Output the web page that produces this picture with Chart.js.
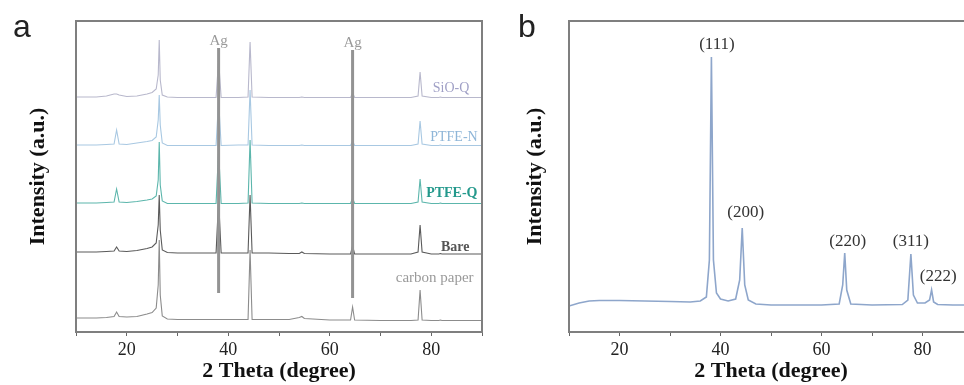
<!DOCTYPE html>
<html><head><meta charset="utf-8">
<script src="https://cdn.jsdelivr.net/npm/chart.js@4.4.1/dist/chart.umd.min.js"></script>
<style>
html,body{margin:0;padding:0;background:#fff;overflow:hidden;width:964px;height:385px;}
#wrap{position:relative;width:964px;height:385px;overflow:hidden;background:#fff;}
canvas{position:absolute;top:0;}
#ca{left:0;} #cb{left:490px;}
.pl{position:absolute;font-family:'Liberation Sans',Arial,sans-serif;font-size:32px;color:#222;line-height:1;}
</style></head><body>
<div id="wrap">
<canvas id="ca" width="490" height="385"></canvas>
<canvas id="cb" width="500" height="385"></canvas>
<div class="pl" style="left:13px;top:10px">a</div>
<div class="pl" style="left:518px;top:10px">b</div>
</div>
<script>
// ---------- Panel a data (stacked XRD patterns, offset intensities, a.u.) ----------
const twoTheta = [10,12,14,16,17.5,18,18.5,20,22,24,25,25.8,26.2,26.4,26.6,27,28,30,34,37.6,38.1,38.6,42,43.9,44.3,44.7,48,52,54,54.5,55,60,64.1,64.5,64.9,70,76,77.4,77.8,78.2,80,81.5,81.8,82.1,85,90];
const seriesNames = ['SiO-Q','PTFE-N','PTFE-Q','Bare','carbon paper'];
const intSiOQ = [235,235,235,236,238,238,237,235.5,236,238,
  239.5,243,257,292,252,237,235,234.5,234.5,234.5,
  272,234.5,234.5,235,290,235,234.5,234.5,234.5,235,
  234.5,234.5,234.5,239,234.5,234.5,234.5,236,260,236,
  234.5,234.5,235,234.5,234.5,234.5];
const intPTFEN = [187,187,187,187.5,188,202,188,187.5,189,190.5,
  191.5,195,212,237,207,189,186.5,186.5,186.5,186.5,
  232,186.5,187,187,242,187,186.5,186.5,186.5,187,
  186.5,186.5,186.5,191,186.5,186.5,186.5,188,211,188,
  186.5,186.5,187,186.5,186.5,186.5];
const intPTFEQ = [129,129,129,129.5,130,143,130,129.5,130.5,132,
  133,136,152,190,147,131,128.5,128.5,128.5,128.5,
  182,128.5,128.5,129,192,129,128.5,128.5,128.5,129,
  128.5,128.5,128.5,134,128.5,128.5,128.5,130,153,130,
  128.5,128.5,129,128.5,128.5,128.5];
const intBare = [80,80,80,80.5,81,85,81,80.5,81.5,83.5,
  85,89,107,137,102,82,79.5,79,79,79,
  132,79,79,79,137,79,79,78.5,78.5,80,
  78.5,78,78,86,78,78,78,80,107,80,
  78,78,78.5,78,78,78];
const intCarbon = [14,14,14,14.5,15.5,20,15.5,15,15.5,18,
  19.5,24,47,92,37,16,13,12.5,12.5,12.5,
  12.5,12.5,12.5,12.5,82,12.5,12.5,12.5,14.5,15.5,
  13.5,12,12,25,12,11.5,11.5,12,42,12,
  11.5,11.5,12,11.5,11.5,11.5];
const agRefAngles = [38.1, 64.5];
const agRefTop = [284, 282];
const agRefBottom = [39, 34];

// ---------- Panel b data (Ag pattern) ----------
const twoThetaAg = [10,12,14,16,20,25,30,34,36,37.2,37.8,38.2,38.6,39.2,40,41.5,43,43.8,44.3,44.8,45.5,47,50,55,60,63.5,64.2,64.6,65,65.8,70,76,77.1,77.7,78.2,79,80.5,81.4,81.8,82.2,83,86,90];
const intensityAg = [26,29,31,31.5,31.5,31,30.5,30,31,35,72,275,72,39,33,31,33,52,104,47,32,28,27,27,27,28,47,79,42,28,27,27.5,32,78,37,29,29,32,42,30,27.5,27,27];
const hklLabels = ['(111)','(200)','(220)','(311)','(222)'];
const hklAngles = [39.3,45.0,65.2,77.7,83.1];
const hklHeights = [287,119,90,90,55];

// ---------- styles ----------
const SERIF = "'Liberation Serif','Times New Roman',serif";
const traceColors = ['#b8b8cc','#a8c8e2','#5cb6ac','#5a5a5a','#8c8c8c'];
const labelColors = ['#a0a0c6','#8fb6d8','#24998c','#555555','#9a9a9a'];
const labelFonts = ['14px','14px','bold 14px','bold 14px','15px'];
const labelPos = [[80.3,244],[79.8,195],[79.0,139],[81.9,85],[73.0,54]];

const pts = (xs, ys) => xs.map((x,i)=>({x, y: ys[i]}));

const framePlugin = {
  id: 'frame',
  afterDatasetsDraw(chart, args, opts) {
    const {ctx, chartArea: a, scales: {x, y}} = chart;
    ctx.save();
    ctx.beginPath(); ctx.rect(a.left, a.top, a.right - a.left, a.bottom - a.top); ctx.clip();
    (opts.labels || []).forEach(l => {
      ctx.font = l.font; ctx.fillStyle = l.color;
      ctx.textAlign = l.align || 'center'; ctx.textBaseline = 'middle';
      ctx.fillText(l.text, x.getPixelForValue(l.x), y.getPixelForValue(l.y));
    });
    ctx.restore();
    ctx.save();
    ctx.strokeStyle = '#7f7f7f'; ctx.lineWidth = 2;
    ctx.strokeRect(a.left, a.top, a.right - a.left, a.bottom - a.top);
    ctx.restore();
  }
};

function makeOptions(cfg) {
  return {
    responsive: false, animation: false, devicePixelRatio: 1,
    layout: {padding: {left: cfg.padLeft, right: cfg.padRight, top: 21, bottom: 0}},
    plugins: {legend: {display: false}, tooltip: {enabled: false}, frame: {labels: cfg.labels}},
    elements: {point: {radius: 0}, line: {tension: 0}},
    scales: {
      x: {
        type: 'linear', min: 10, max: 90,
        ticks: {stepSize: 10, autoSkip: false, maxRotation: 0, padding: 3, color: '#222',
          font: {family: SERIF, size: 18},
          callback: v => (v % 20 === 0 && v > 10 && v < 90) ? String(v) : ''},
        grid: {display: true, drawOnChartArea: false, drawTicks: true, tickLength: 4, color: '#666', lineWidth: 1},
        border: {display: false},
        title: {display: true, text: '2 Theta (degree)', color: '#111',
          font: {family: SERIF, size: 22, weight: 'bold'}, padding: {top: 0, bottom: 0}},
        afterFit: s => { s.height = 53; }
      },
      y: {
        min: 0, max: 311,
        ticks: {display: false}, grid: {display: false}, border: {display: false},
        title: {display: true, text: 'Intensity (a.u.)', color: '#111',
          font: {family: SERIF, size: 22, weight: 'bold'}, padding: {top: 4, bottom: 4}},
        afterFit: s => { s.width = cfg.yWidth; }
      }
    }
  };
}

// ---------- chart a ----------
const seriesA = [intSiOQ, intPTFEN, intPTFEQ, intBare, intCarbon];
const dsA = [];
agRefAngles.forEach((ang, i) => {
  dsA.push({label: 'Ag ref', data: [{x: ang, y: agRefTop[i]}, {x: ang, y: agRefBottom[i]}],
    borderColor: '#939393', borderWidth: 3, pointRadius: 0});
});
seriesA.forEach((s, i) => {
  dsA.push({label: seriesNames[i], data: pts(twoTheta, s), borderColor: traceColors[i], borderWidth: 1.1, pointRadius: 0});
});
const labelsA = seriesNames.map((n, i) => ({text: n, x: labelPos[i][0], y: labelPos[i][1],
  color: labelColors[i], align: 'left', font: labelFonts[i] + ' ' + SERIF}));
agRefAngles.forEach((ang, i) => labelsA.push({text: 'Ag', x: ang, y: [291, 289][i], color: '#9a9a9a', font: '15px ' + SERIF}));

new Chart(document.getElementById('ca'), {
  type: 'line',
  data: {datasets: dsA},
  options: makeOptions({padLeft: 21, yWidth: 55, padRight: 8, labels: labelsA}),
  plugins: [framePlugin]
});

// ---------- chart b ----------
const labelsB = hklLabels.map((t, i) => ({text: t, x: hklAngles[i], y: hklHeights[i], color: '#333', font: '17px ' + SERIF}));
new Chart(document.getElementById('cb'), {
  type: 'line',
  data: {datasets: [{label: 'Ag', data: pts(twoThetaAg, intensityAg), borderColor: '#8ea6cb', borderWidth: 1.6, pointRadius: 0}]},
  options: makeOptions({padLeft: 28, yWidth: 51, padRight: 17, labels: labelsB}),
  plugins: [framePlugin]
});
</script>
</body></html>
